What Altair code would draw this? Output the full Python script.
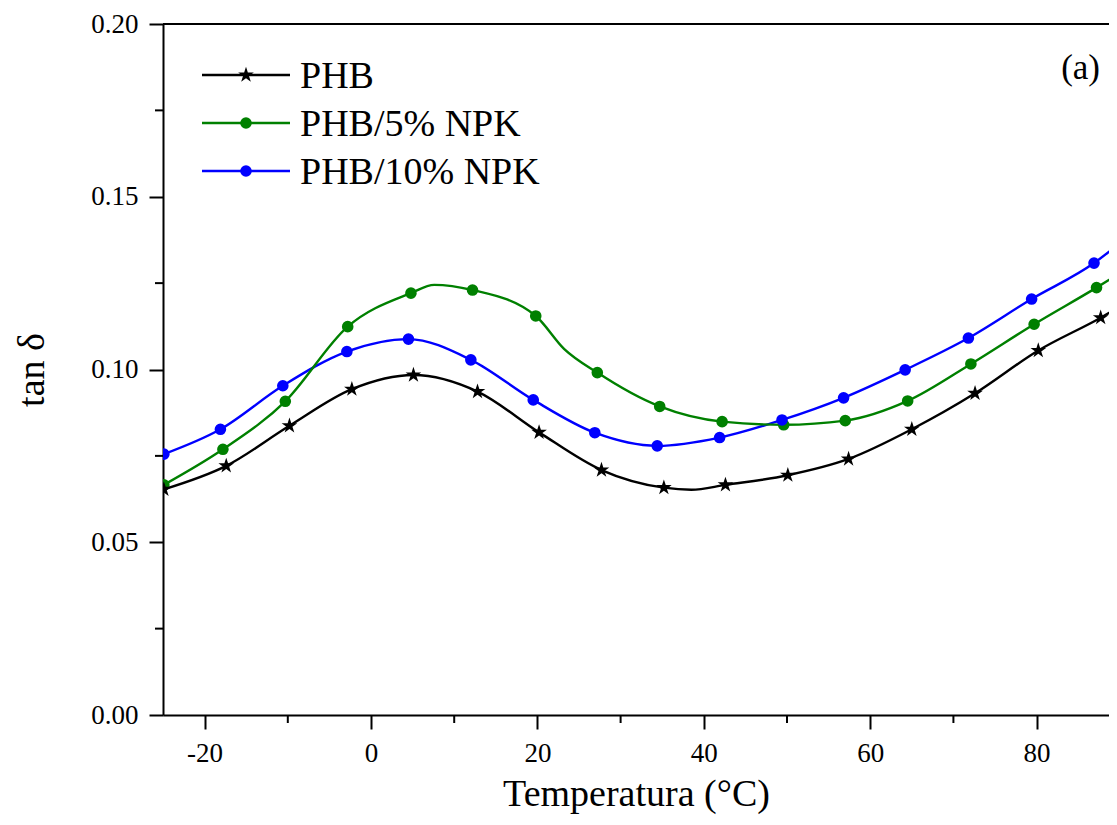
import altair as alt
import pandas as pd

# ---- data (marker positions) ----
phb_t = [-24.9, -17.4, -9.8, -2.3, 5.1, 12.8, 20.2, 27.7, 35.2, 42.6, 50.1, 57.4, 65.0, 72.6, 80.2, 87.7]
phb_v = [0.0653, 0.0721, 0.0837, 0.0943, 0.0984, 0.0936, 0.0818, 0.0709, 0.0658, 0.0666, 0.0694, 0.0741, 0.0827, 0.0931, 0.1055, 0.1150]

npk5_t = [-24.9, -17.8, -10.3, -2.8, 4.8, 12.2, 19.8, 27.2, 34.7, 42.2, 49.6, 57.0, 64.5, 72.1, 79.7, 87.2]
npk5_v = [0.0666, 0.0769, 0.0908, 0.1124, 0.1221, 0.1230, 0.1155, 0.0991, 0.0893, 0.0849, 0.0840, 0.0852, 0.0909, 0.1016, 0.1131, 0.1237]

npk10_t = [-24.9, -18.1, -10.6, -2.9, 4.5, 12.0, 19.5, 26.9, 34.4, 41.9, 49.4, 56.8, 64.2, 71.8, 79.4, 86.9]
npk10_v = [0.0755, 0.0827, 0.0953, 0.1052, 0.1088, 0.1028, 0.0912, 0.0817, 0.0779, 0.0803, 0.0854, 0.0918, 0.0999, 0.1091, 0.1204, 0.1308]

# extra curve points between markers (line only)
phb_xt = [38.5, 89.7]
phb_xv = [0.0652, 0.1178]
npk5_xt = [7.6, 23.2, 89.7]
npk5_xv = [0.1245, 0.1060, 0.1274]
npk10_xt = [89.7]
npk10_xv = [0.1360]

series_names = ["PHB", "PHB/5% NPK", "PHB/10% NPK"]
series_colors = ["#000000", "#008000", "#0000FF"]

x_major = [-20, 0, 20, 40, 60, 80]
x_minor = [-10, 10, 30, 50, 70]
y_major = [0.0, 0.05, 0.10, 0.15, 0.20]
y_minor = [0.025, 0.075, 0.125, 0.175]

X_DOMAIN = [-25, 88.7]
Y_DOMAIN = [0, 0.2]
FONT = "Liberation Serif"

W, H = 946, 691
STAR = ("M0,-1L0.2245,-0.309L0.951,-0.309L0.3633,0.118L0.5878,0.809L0,0.382"
        "L-0.5878,0.809L-0.3633,0.118L-0.951,-0.309L-0.2245,-0.309Z")

def frame(name, t, v):
    return pd.DataFrame({"T": t, "v": v, "s": name})

markers = pd.concat([frame(series_names[0], phb_t, phb_v),
                     frame(series_names[1], npk5_t, npk5_v),
                     frame(series_names[2], npk10_t, npk10_v)])
curves = pd.concat([frame(series_names[0], phb_t + phb_xt, phb_v + phb_xv),
                    frame(series_names[1], npk5_t + npk5_xt, npk5_v + npk5_xv),
                    frame(series_names[2], npk10_t + npk10_xt, npk10_v + npk10_xv)]).sort_values(["s", "T"])

xs = alt.Scale(domain=X_DOMAIN, nice=False, zero=False)
ys = alt.Scale(domain=Y_DOMAIN, nice=False, zero=False)
cs = alt.Scale(domain=series_names, range=series_colors)

x_enc = alt.X("T:Q", scale=xs, title="Temperatura (°C)",
              axis=alt.Axis(values=x_major, labelPadding=11, titlePadding=9,
                            labelExpr="datum.value < 0 ? '-' + abs(datum.value) : '' + datum.value"))
y_enc = alt.Y("v:Q", scale=ys, title="tan δ",
              axis=alt.Axis(values=y_major, format=".2f", labelPadding=11, titlePadding=39))

lines = alt.Chart(curves).mark_line(strokeWidth=2.4, interpolate="monotone", clip=True).encode(
    x=x_enc, y=y_enc,
    color=alt.Color("s:N", scale=cs, legend=None),
    detail="s:N",
)

circ = alt.Chart(markers).transform_filter(alt.datum.s != series_names[0]).mark_point(
    shape="circle", filled=True, opacity=1, size=135, clip=True).encode(
    x="T:Q", y="v:Q", color=alt.Color("s:N", scale=cs, legend=None))

stars = alt.Chart(markers).transform_filter(alt.datum.s == series_names[0]).mark_point(
    shape=STAR, filled=True, opacity=1, size=270, color="#000000", clip=True).encode(x="T:Q", y="v:Q")

one = pd.DataFrame({"k": [0]})

# minor ticks
xminor = alt.Chart(pd.DataFrame({"T": x_minor})).mark_rule(color="black", strokeWidth=2).encode(
    x="T:Q", y=alt.value(H), y2=alt.value(H + 8))
yminor = alt.Chart(pd.DataFrame({"v": y_minor})).mark_rule(color="black", strokeWidth=2).encode(
    y="v:Q", x=alt.value(0), x2=alt.value(-8))
top = alt.Chart(one).mark_rule(color="black", strokeWidth=2).encode(
    y=alt.datum(Y_DOMAIN[1]), x=alt.value(0), x2=alt.value(W))

# manual legend
leg_layers = []
row_y = [51, 99, 147]
for i, name in enumerate(series_names):
    leg_layers.append(alt.Chart(one).mark_rule(color=series_colors[i], strokeWidth=2.4).encode(
        x=alt.value(39), x2=alt.value(127), y=alt.value(row_y[i])))
    if i == 0:
        leg_layers.append(alt.Chart(one).mark_point(
            shape=STAR, filled=True, opacity=1, size=270, color=series_colors[i]).encode(
            x=alt.value(83), y=alt.value(row_y[i])))
    else:
        leg_layers.append(alt.Chart(one).mark_point(
            shape="circle", filled=True, opacity=1, size=135, color=series_colors[i]).encode(
            x=alt.value(83), y=alt.value(row_y[i])))
    leg_layers.append(alt.Chart(one).mark_text(
        text=name, align="left", baseline="middle", font=FONT, fontSize=38, color="black").encode(
        x=alt.value(137), y=alt.value(row_y[i] + 2)))

label_a = alt.Chart(one).mark_text(text="(a)", align="right", baseline="middle",
                                    font=FONT, fontSize=35, color="black").encode(
    x=alt.value(937), y=alt.value(44))

chart = alt.layer(lines, circ, stars, xminor, yminor, top, label_a, *leg_layers).properties(
    width=W, height=H,
    autosize=alt.AutoSizeParams(type="none"),
    padding={"left": 155, "top": 16, "right": 0, "bottom": 102},
).configure_view(strokeWidth=0).configure_axis(
    domainColor="black", domainWidth=2, tickColor="black", tickWidth=2, tickSize=14,
    labelFont=FONT, labelFontSize=27, labelColor="black",
    titleFont=FONT, titleFontSize=38, titleFontWeight="normal", titleColor="black",
    grid=False,
)

chart.save("out.html", embed_options={"renderer": "svg", "actions": False})
